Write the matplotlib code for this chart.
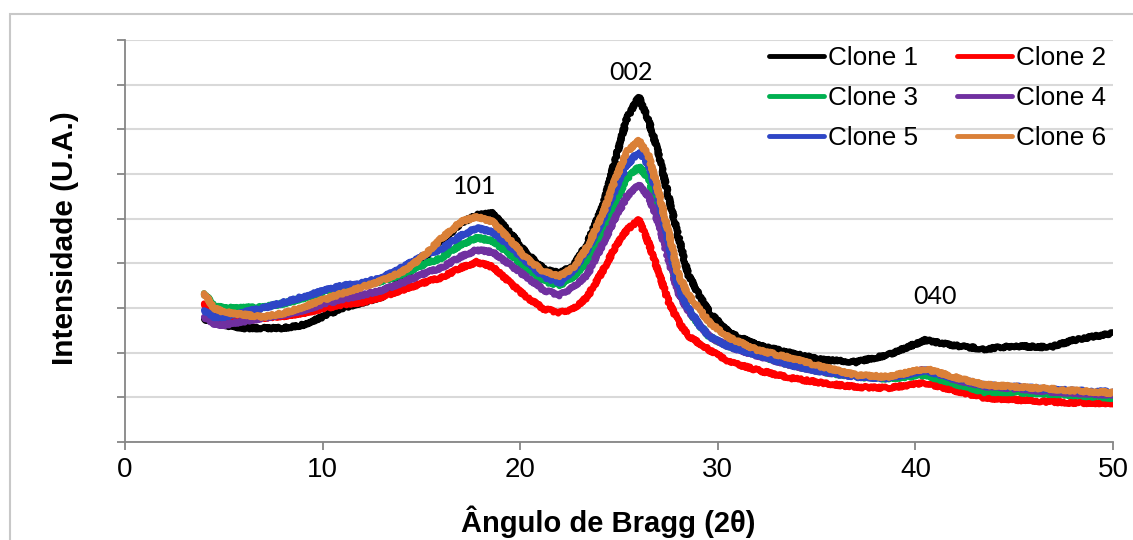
import numpy as np
import matplotlib
matplotlib.use('Agg')
import matplotlib.pyplot as plt
from matplotlib.patches import Rectangle

plt.rcParams['font.family'] = ['Liberation Sans', 'DejaVu Sans']

# 2theta sampling points
two_theta = [4, 4.5, 5, 6, 7, 8, 9, 10, 11, 12, 13, 14, 15, 16, 17, 17.8, 18.6, 19.5, 20.3, 21.2,
             22, 22.7, 23.4, 24.2, 24.8, 25.4, 26, 26.5, 27, 27.5, 28, 28.5, 29.1, 29.6, 30.6, 32,
             33.7, 35.3, 37, 38.6, 40.5, 42, 43.5, 45, 46.8, 48, 50]

clone1 = [2.75, 2.7, 2.62, 2.55, 2.55, 2.55, 2.62, 2.8, 3.0, 3.12, 3.25, 3.65, 4.05, 4.5, 4.9, 5.08, 5.12, 4.68, 4.23, 3.88,
          3.78, 3.95, 4.45, 5.3, 6.3, 7.25, 7.72, 7.2, 6.45, 5.5, 4.6, 3.75, 3.25, 2.89, 2.44, 2.17,
          1.99, 1.84, 1.79, 1.95, 2.28, 2.16, 2.08, 2.15, 2.12, 2.28, 2.44]
clone2 = [3.1, 2.85, 2.73, 2.72, 2.78, 2.82, 2.89, 2.98, 3.08, 3.13, 3.25, 3.4, 3.55, 3.68, 3.9, 4.03, 3.92, 3.56, 3.25, 2.98,
          2.9, 2.98, 3.25, 3.85, 4.35, 4.75, 4.97, 4.45, 3.8, 3.15, 2.7, 2.38, 2.2, 2.05, 1.79, 1.61,
          1.43, 1.32, 1.23, 1.21, 1.32, 1.15, 0.99, 0.95, 0.9, 0.88, 0.87]
clone3 = [3.33, 3.05, 3.0, 3.0, 3.02, 3.1, 3.22, 3.35, 3.45, 3.52, 3.6, 3.75, 3.95, 4.12, 4.42, 4.57, 4.5, 4.19, 3.9, 3.6,
          3.51, 3.7, 4.05, 4.75, 5.35, 5.9, 6.16, 5.9, 5.15, 4.3, 3.4, 2.95, 2.6, 2.35, 2.13, 1.95,
          1.72, 1.57, 1.46, 1.42, 1.5, 1.3, 1.12, 1.12, 1.08, 1.05, 0.99]
clone4 = [2.8, 2.65, 2.62, 2.7, 2.78, 2.85, 2.95, 3.08, 3.2, 3.29, 3.4, 3.56, 3.75, 3.9, 4.15, 4.3, 4.25, 3.96, 3.7, 3.4,
          3.29, 3.47, 3.75, 4.45, 5.0, 5.5, 5.75, 5.5, 4.9, 4.1, 3.35, 2.95, 2.6, 2.35, 2.13, 1.93,
          1.72, 1.57, 1.47, 1.44, 1.62, 1.4, 1.25, 1.2, 1.13, 1.1, 1.05]
clone5 = [2.95, 2.8, 2.8, 2.9, 3.0, 3.12, 3.25, 3.38, 3.5, 3.56, 3.68, 3.9, 4.15, 4.32, 4.62, 4.79, 4.7, 4.37, 4.05, 3.7,
          3.56, 3.85, 4.3, 5.0, 5.65, 6.2, 6.5, 6.2, 5.45, 4.5, 3.45, 3.0, 2.6, 2.35, 2.13, 1.95,
          1.72, 1.57, 1.46, 1.43, 1.6, 1.42, 1.27, 1.24, 1.18, 1.15, 1.12]
clone6 = [3.33, 3.0, 2.91, 2.85, 2.8, 2.88, 3.02, 3.18, 3.33, 3.47, 3.62, 3.8, 4.12, 4.55, 4.93, 5.04, 4.93, 4.52, 4.12, 3.81,
          3.72, 3.9, 4.37, 5.12, 5.87, 6.5, 6.75, 6.4, 5.6, 4.7, 3.75, 3.3, 2.95, 2.66, 2.33, 2.06,
          1.88, 1.68, 1.5, 1.46, 1.64, 1.45, 1.28, 1.24, 1.19, 1.15, 1.1]

series = [clone1, clone2, clone3, clone4, clone5, clone6]
labels = ['Clone 1', 'Clone 2', 'Clone 3', 'Clone 4', 'Clone 5', 'Clone 6']
colors = ['#000000', '#FF0000', '#00B050', '#7030A0', '#2E46C6', '#DA8038']

# peak labels
peaks = ['101', '002', '040']
peak_x = [17.7, 25.6, 41.0]
peak_y = [5.73, 8.28, 3.25]

fig = plt.figure(figsize=(11.33, 5.4), dpi=100)
ax = fig.add_axes([125 / 1133, 98 / 540, 988 / 1133, 402 / 540])

# outer chart border
fig.patches.append(Rectangle((10 / 1133, -0.1), 1.2, 1.1 - 14 / 540, transform=fig.transFigure,
                             fill=False, edgecolor='#C8C8C8', linewidth=1.5, zorder=0))

handles = []
for y, lab, c in zip(series, labels, colors):
    ln, = ax.plot(two_theta, y, color=c, lw=4.5, label=lab, solid_joinstyle='round',
                  solid_capstyle='round')
    ln.set_sketch_params(1.3, 3, 3)
    handles.append(ln)

ax.set_xlim(0, 50)
ax.set_ylim(0, 9)
ax.set_xticks(np.arange(0, 51, 10))
ax.set_yticks(np.arange(0, 10, 1))
ax.set_yticklabels([])
ax.grid(axis='y', color='#D9D9D9', lw=1.5)
ax.set_axisbelow(True)
for s in ['top', 'right']:
    ax.spines[s].set_visible(False)
for s in ['left', 'bottom']:
    ax.spines[s].set_color('#868686')
    ax.spines[s].set_linewidth(1.3)
ax.tick_params(axis='both', direction='out', color='#868686', width=1.3, length=6)
ax.tick_params(axis='x', labelsize=20, pad=5)

for t, px, py in zip(peaks, peak_x, peak_y):
    ax.text(px, py, t, fontsize=18, family=['Lato', 'DejaVu Sans'], ha='center', va='center')

fig.text(608 / 1133, 1 - 522 / 540, 'Ângulo de Bragg (2θ)', fontsize=21, fontweight='bold',
         ha='center', va='center')
fig.text(65 / 1133, 1 - 238 / 540, 'Intensidade (U.A.)', fontsize=21.5, fontweight='bold',
         ha='center', va='center', rotation=90)

# excel fills the legend row by row
order = [0, 2, 4, 1, 3, 5]
leg = ax.legend([handles[i] for i in order], [labels[i] for i in order], ncol=2, loc='upper right',
                bbox_to_anchor=(1106 / 1133, 1 - 46 / 540), bbox_transform=fig.transFigure,
                frameon=False, fontsize=18.8, handlelength=2.1, handletextpad=0.15,
                columnspacing=1.5, labelspacing=0.62, borderpad=0, borderaxespad=0)
for h in leg.legend_handles:
    h.set_sketch_params(None)
    h.set_linewidth(3.5)

fig.savefig('out.png', dpi=100)
